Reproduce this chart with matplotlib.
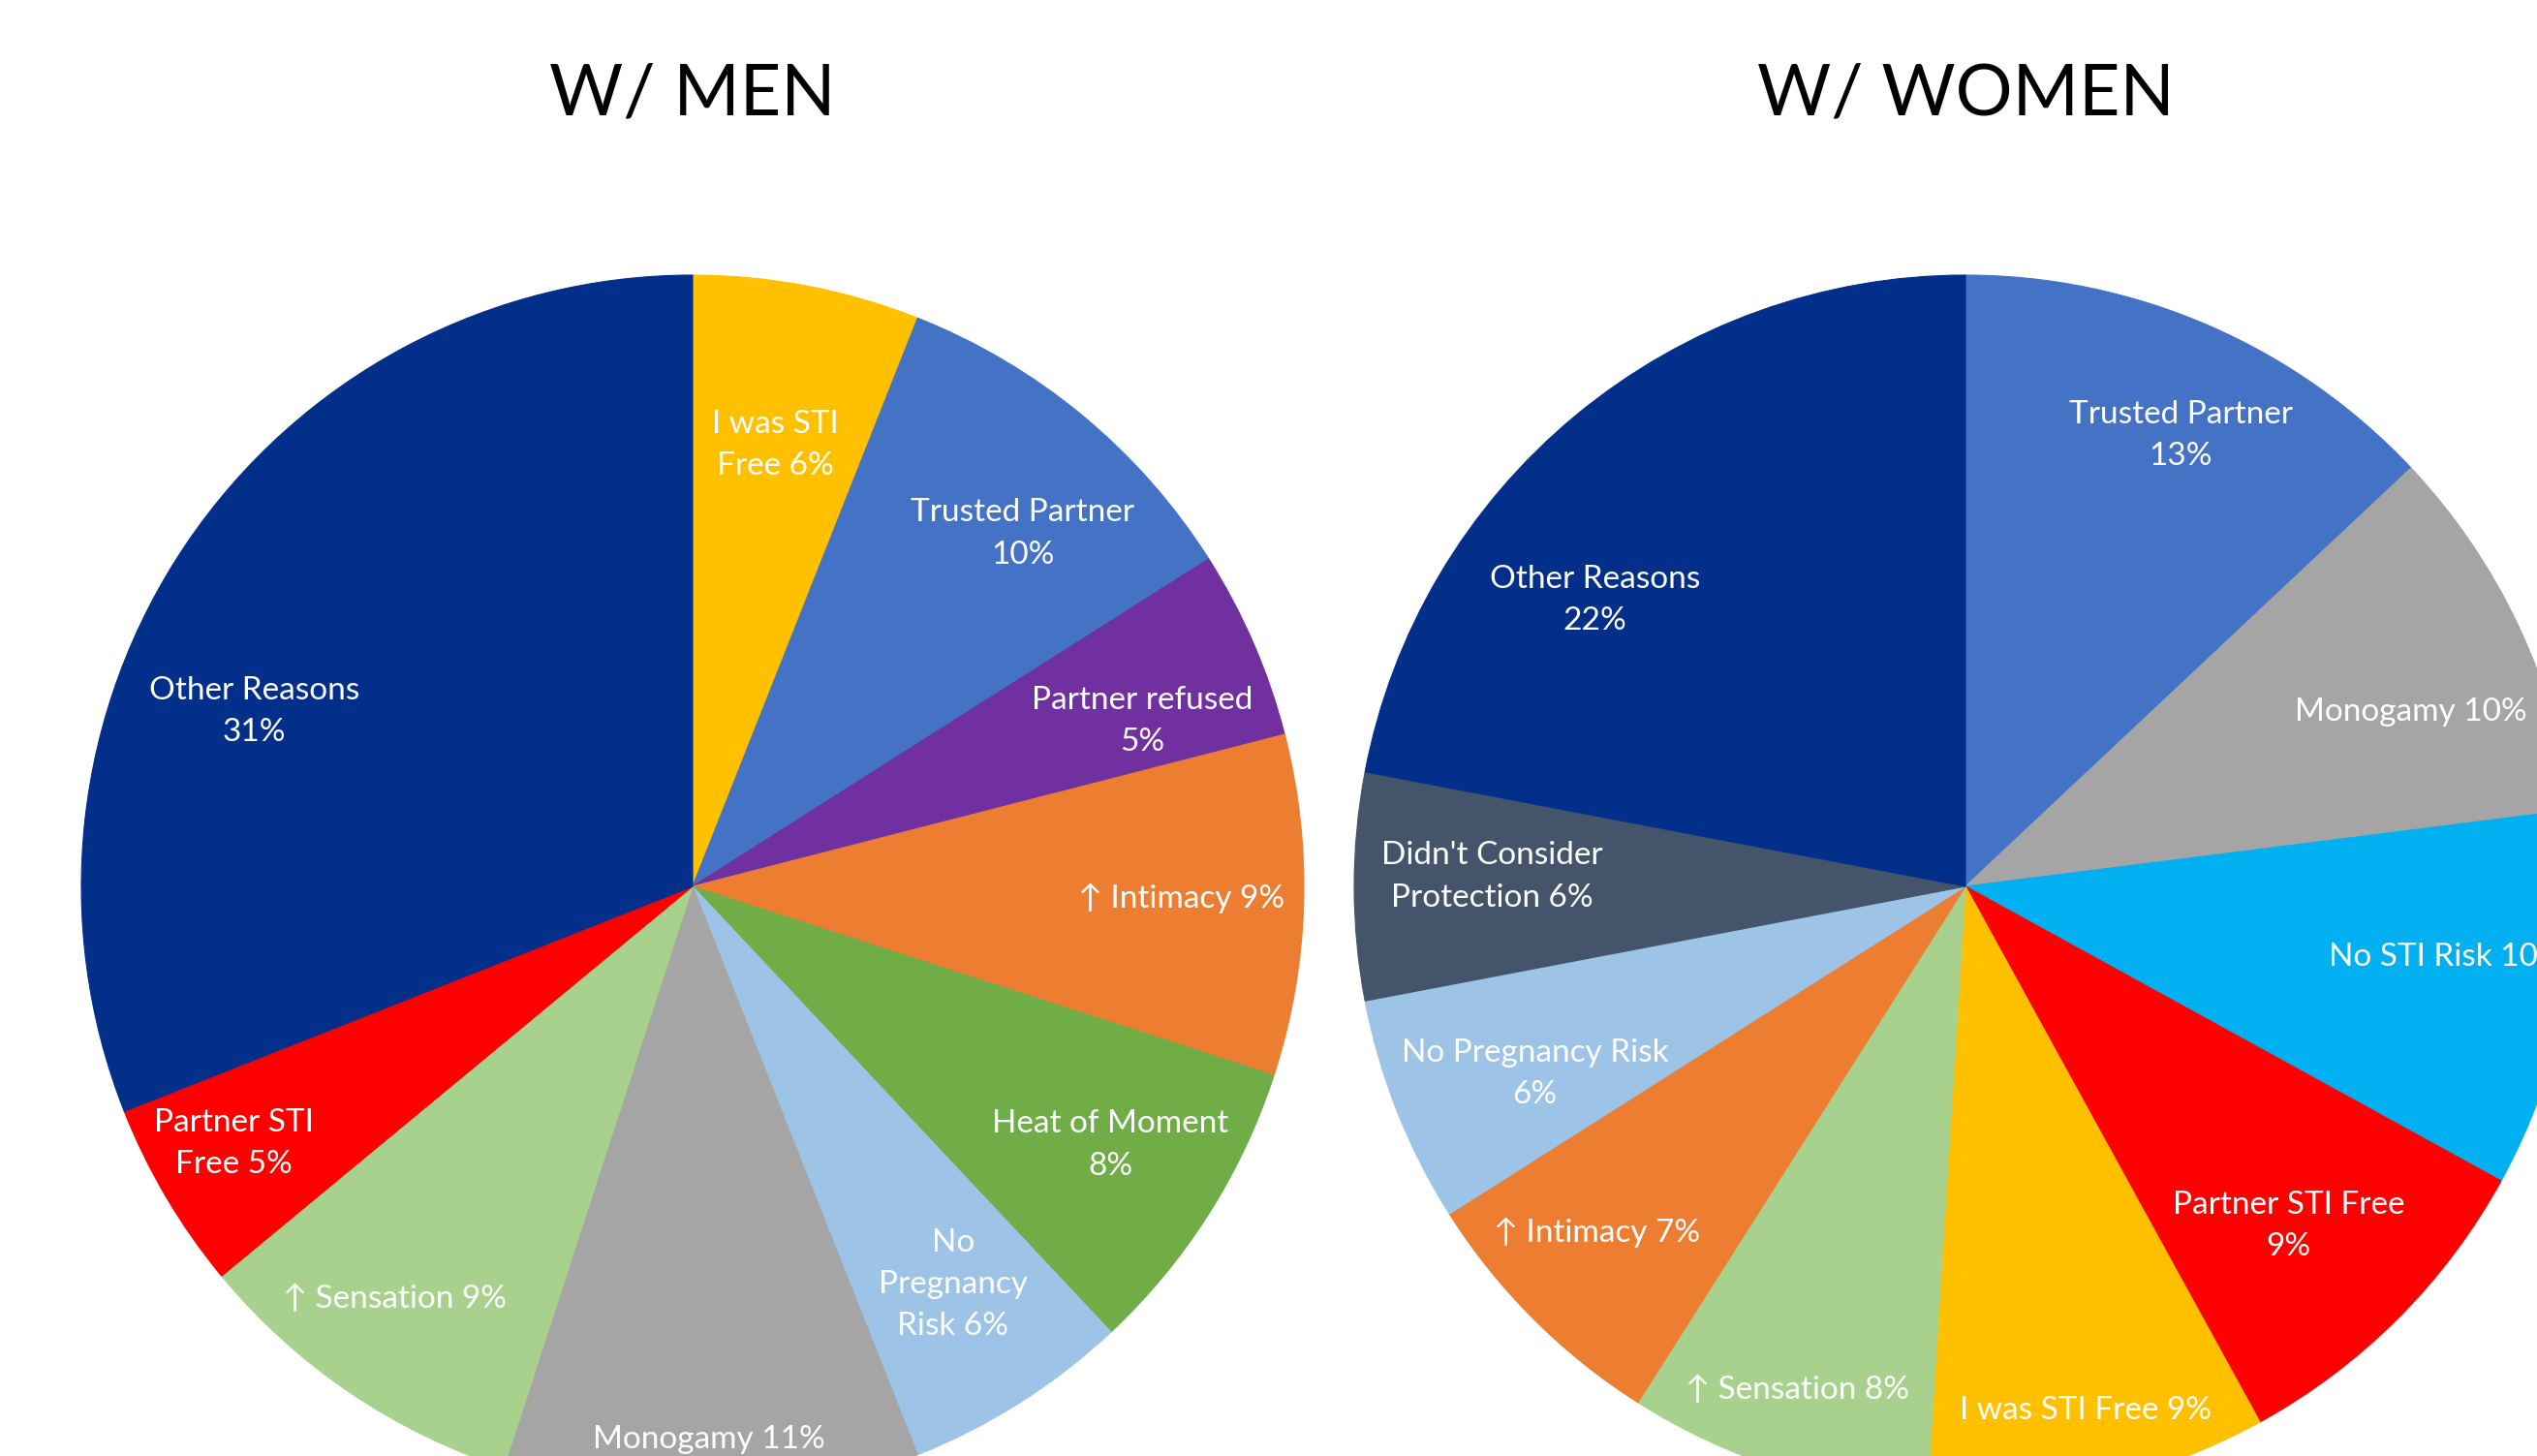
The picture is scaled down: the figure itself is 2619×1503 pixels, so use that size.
import matplotlib
matplotlib.use("Agg")
import matplotlib.pyplot as plt

plt.rcParams['font.family'] = ['Lato', 'DejaVu Sans']

# ---------------- data ----------------
men_labels = ["I was STI\nFree 6%", "Trusted Partner\n10%", "Partner refused\n5%",
              "↑ Intimacy 9%", "Heat of Moment\n8%", "No\nPregnancy\nRisk 6%",
              "Monogamy 11%", "↑ Sensation 9%", "Partner STI\nFree 5%",
              "Other Reasons\n31%"]
men_values = [6, 10, 5, 9, 8, 6, 11, 9, 5, 31]

women_labels = ["Trusted Partner\n13%", "Monogamy 10%", "No STI Risk 10%",
                "Partner STI Free\n9%", "I was STI Free 9%", "↑ Sensation 8%",
                "↑ Intimacy 7%", "No Pregnancy Risk\n6%",
                "Didn't Consider\nProtection 6%", "Other Reasons\n22%"]
women_values = [13, 10, 10, 9, 9, 8, 7, 6, 6, 22]

titles = ["W/ MEN", "W/ WOMEN"]

# ---------------- style / layout ----------------
NAVY = "#022F8A"; YELLOW = "#FFC000"; BLUE = "#4472C4"; PURPLE = "#7030A0"
ORANGE = "#ED7D31"; GREEN = "#70AD47"; LBLUE = "#9DC3E6"; GRAY = "#A5A5A5"
LGREEN = "#A9D18E"; RED = "#FF0000"; SLATE = "#44546A"; CYAN = "#00B0F0"

men_colors = [YELLOW, BLUE, PURPLE, ORANGE, GREEN, LBLUE, GRAY, LGREEN, RED, NAVY]
women_colors = [BLUE, GRAY, CYAN, RED, YELLOW, LGREEN, ORANGE, LBLUE, SLATE, NAVY]

# label offsets from pie centre, in units of radius (x right, y down)
men_label_pos = [(0.135, -0.722), (0.540, -0.577), (0.735, -0.270), (0.799, 0.019),
                 (0.683, 0.423), (0.426, 0.651), (0.026, 0.905), (-0.487, 0.675),
                 (-0.751, 0.421), (-0.717, -0.286)]
women_label_pos = [(0.352, -0.738), (0.728, -0.286), (0.786, 0.116), (0.529, 0.556),
                   (0.196, 0.857), (-0.275, 0.825), (-0.603, 0.566), (-0.704, 0.307),
                   (-0.775, -0.016), (-0.606, -0.468)]

W, H = 2619, 1503
fig = plt.figure(figsize=(W / 100, H / 100), dpi=100)
ax = fig.add_axes([0, 0, 1, 1])

R = 631
centers = [(715, H - 915), (2029, H - 915)]
title_y = H - 98

datasets = [(men_values, men_labels, men_colors, men_label_pos),
            (women_values, women_labels, women_colors, women_label_pos)]

for (vals, labs, cols, lpos), (cx, cy), title in zip(datasets, centers, titles):
    wedges, _ = ax.pie(vals, colors=cols, startangle=90, counterclock=False,
                       center=(cx, cy), radius=R,
                       wedgeprops=dict(linewidth=0.8, antialiased=True))
    for w, c in zip(wedges, cols):
        w.set_edgecolor(c)
    for lab, (dx, dy) in zip(labs, lpos):
        ax.text(cx + dx * R, cy - dy * R, lab, ha="center", va="center",
                color="white", fontsize=24, linespacing=1.55)
    ax.text(cx, title_y, title, ha="center", va="center", fontsize=53, color="black")

ax.set_xlim(0, W)
ax.set_ylim(0, H)
ax.set_aspect("equal")
ax.axis("off")

fig.savefig("out.png", dpi=100, facecolor="white")
